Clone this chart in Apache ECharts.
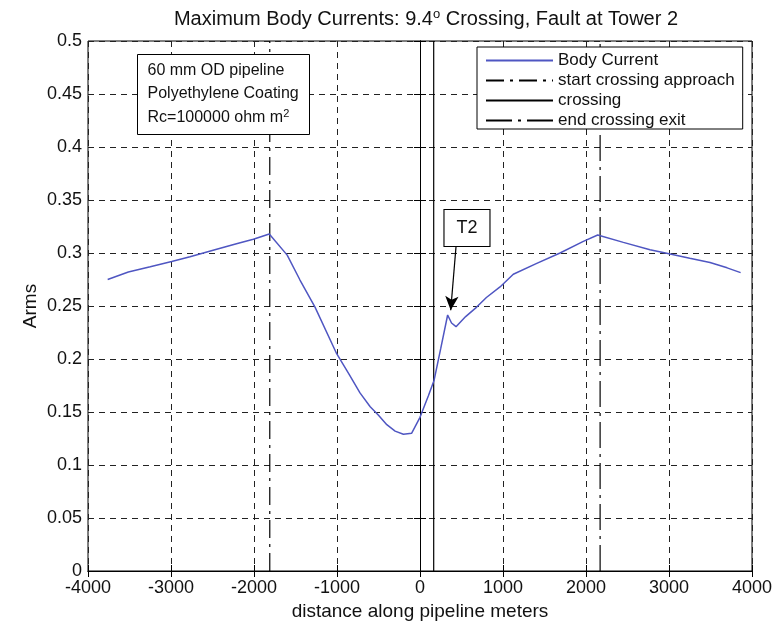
<!DOCTYPE html>
<html><head><meta charset="utf-8">
<script src="https://cdn.jsdelivr.net/npm/echarts@6/dist/echarts.min.js"></script>
<style>html,body{margin:0;padding:0;background:#fff}#c{width:777px;height:631px}</style>
</head><body><div id="c"></div>
<script>
// Data
const distance = [-3763,-3514,-3250,-2992,-2771,-2450,-2200,-2008,-1816,-1600,-1446,-1265,-1004,-850,-723,-600,-500,-400,-300,-200,-100,0,100,170,250,333,380,434,550,683,800,964,1124,1400,1687,1968,2141,2450,2771,2972,3250,3494,3700,3863];
const bodyCurrent = [0.275,0.282,0.287,0.292,0.2965,0.3035,0.309,0.313,0.318,0.298,0.2745,0.249,0.205,0.185,0.168,0.155,0.147,0.138,0.132,0.129,0.130,0.145,0.165,0.180,0.210,0.2415,0.234,0.2305,0.240,0.249,0.258,0.268,0.280,0.290,0.300,0.311,0.317,0.310,0.303,0.2997,0.295,0.291,0.286,0.2815];
const startApproachX = -1810;
const crossingX = 165;
const endExitX = 2170;
const xTicks = [-4000,-3000,-2000,-1000,0,1000,2000,3000,4000];
const yTicks = [0,0.05,0.1,0.15,0.2,0.25,0.3,0.35,0.4,0.45,0.5];
const t2Label = {x: 566, y: 0.3236};
const t2ArrowFrom = [434, 0.306];
const t2ArrowTo = [370, 0.246];

const FONT = 'Liberation Sans';
const chart = echarts.init(document.getElementById('c'), null, {renderer:'canvas'});
const body = distance.map((d,i)=>[d, bodyCurrent[i]]);
function vline(x){ return [[x,0],[x,0.5]]; }
const gridLine = {show:true, lineStyle:{color:'#222', type:[6,5], width:1}};
const xCommon = {type:'value', min:xTicks[0], max:xTicks[xTicks.length-1], interval:xTicks[1]-xTicks[0]};
const yCommon = {type:'value', min:yTicks[0], max:yTicks[yTicks.length-1], interval:0.05};
chart.setOption({
  animation:false,
  backgroundColor:'#fff',
  title:{
    text:'Maximum Body Currents: 9.4{sup|o} Crossing, Fault at Tower 2',
    left:421, top:3, textAlign:'center',
    textStyle:{fontFamily:FONT, fontSize:20, fontWeight:'normal', color:'#111',
      rich:{sup:{fontFamily:FONT, fontSize:13, verticalAlign:'top', padding:[0,0,9,0], color:'#111'}}}
  },
  grid:{left:88, right:25, top:41, bottom:60, show:true, borderColor:'#000', borderWidth:1},
  legend:{
    orient:'vertical', left:477, top:47,
    itemWidth:67, itemHeight:14, itemGap:3,
    padding:[5,8,0,8],
    borderColor:'#000', borderWidth:1, backgroundColor:'#fff',
    itemStyle:{opacity:0},
    textStyle:{fontFamily:FONT, fontSize:17, color:'#111'},
    data:['Body Current','start crossing approach','crossing','end crossing exit'],
    z:20
  },
  xAxis:[
    Object.assign({}, xCommon, {
      position:'bottom',
      name:'distance along pipeline meters', nameLocation:'middle', nameGap:27,
      nameTextStyle:{fontFamily:FONT, fontSize:19, color:'#111'},
      axisLine:{show:true, lineStyle:{color:'#000'}},
      axisTick:{show:true, inside:true, length:6, lineStyle:{color:'#000'}},
      axisLabel:{fontFamily:FONT, fontSize:18, color:'#111', margin:8, formatter:v=>String(v)},
      splitLine:gridLine
    }),
    Object.assign({}, xCommon, {
      position:'top',
      axisLine:{show:true, lineStyle:{color:'#000'}},
      axisTick:{show:true, inside:true, length:6, lineStyle:{color:'#000'}},
      axisLabel:{show:false}, splitLine:{show:false}
    })
  ],
  yAxis:[
    Object.assign({}, yCommon, {
      position:'left',
      name:'Arms', nameLocation:'middle', nameGap:48, nameRotate:90, nameMoveOverlap:false,
      nameTextStyle:{fontFamily:FONT, fontSize:19, color:'#111'},
      axisLine:{show:true, lineStyle:{color:'#000'}},
      axisTick:{show:true, inside:true, length:6, lineStyle:{color:'#000'}},
      axisLabel:{fontFamily:FONT, fontSize:18, color:'#111', margin:6, formatter:v=>String(+v.toFixed(2))},
      splitLine:gridLine
    }),
    Object.assign({}, yCommon, {
      position:'right',
      axisLine:{show:true, lineStyle:{color:'#000'}},
      axisTick:{show:true, inside:true, length:6, lineStyle:{color:'#000'}},
      axisLabel:{show:false}, splitLine:{show:false}
    })
  ],
  series:[
    {name:'Body Current', type:'line', data:body, showSymbol:false, symbol:'none',
     lineStyle:{color:'#4f56c2', width:1.5}, itemStyle:{color:'#4f56c2'}, z:5,
     markPoint:{
       symbol:'rect', symbolSize:[46,37], silent:true,
       itemStyle:{color:'#fff', borderColor:'#000', borderWidth:1},
       label:{show:true, formatter:'T2', fontFamily:FONT, fontSize:18, color:'#111'},
       data:[{coord:[t2Label.x, t2Label.y]}]
     },
     markLine:{
       silent:true, symbol:['none','arrow'], symbolSize:[10,14],
       lineStyle:{color:'#000', type:'solid', width:1.2},
       label:{show:false},
       data:[[{coord:t2ArrowFrom},{coord:t2ArrowTo}]]
     }},
    {name:'start crossing approach', type:'line', data:vline(startApproachX), showSymbol:false, symbol:'none',
     lineStyle:{color:'#000', width:1.2, type:[18,6,3,6]}, itemStyle:{color:'#000'}},
    {name:'crossing', type:'line', data:vline(crossingX), showSymbol:false, symbol:'none',
     lineStyle:{color:'#000', width:1.2, type:'solid'}, itemStyle:{color:'#000'}},
    {name:'end crossing exit', type:'line', data:vline(endExitX), showSymbol:false, symbol:'none',
     lineStyle:{color:'#000', width:1.2, type:[26,6,3,6]}, itemStyle:{color:'#000'}}
  ],
  graphic:[{
    type:'group', left:137, top:54, z:100,
    children:[
      {type:'rect', z:100, shape:{x:0,y:0,width:172,height:80}, style:{fill:'#fff', stroke:'#000', lineWidth:1}},
      {type:'text', z:101, x:10, y:8, style:{text:'60 mm OD pipeline', font:'16px "Liberation Sans"', fill:'#111'}},
      {type:'text', z:101, x:10, y:31, style:{text:'Polyethylene Coating', font:'16px "Liberation Sans"', fill:'#111'}},
      {type:'text', z:101, x:10, y:54, style:{text:'Rc=100000 ohm m{sup|2}', font:'16px "Liberation Sans"', fill:'#111',
        rich:{sup:{fontSize:11, fontFamily:FONT, verticalAlign:'top', padding:[0,0,7,0]}}}}
    ]
  }]
});
</script></body></html>
